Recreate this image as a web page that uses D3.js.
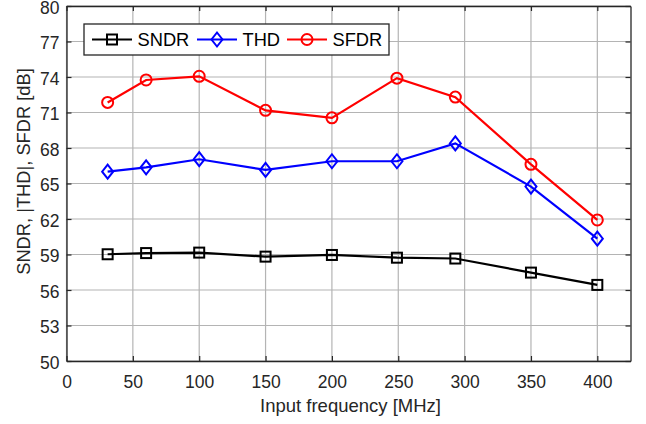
<!DOCTYPE html>
<html><head><meta charset="utf-8">
<script src="https://cdn.jsdelivr.net/npm/d3@7"></script>
<style>body{margin:0;background:#fff}svg{display:block}text{font-family:"Liberation Sans",Arial,sans-serif}</style>
</head><body><svg id="c" width="646" height="424"></svg>
<script>
const freq = [31, 60, 100, 150, 200, 249, 293, 350, 400];
const sndr = [59.02, 59.12, 59.16, 58.82, 58.96, 58.73, 58.66, 57.47, 56.43];
const thd  = [66.0, 66.37, 67.05, 66.15, 66.88, 66.88, 68.39, 64.74, 60.34];
const sfdr = [71.85, 73.75, 74.06, 71.18, 70.55, 73.9, 72.3, 66.62, 61.92];
const xTicks = [0, 50, 100, 150, 200, 250, 300, 350, 400];
const yTicks = [50, 53, 56, 59, 62, 65, 68, 71, 74, 77, 80];
const seriesNames = ["SNDR", "THD", "SFDR"];
const seriesColors = ["#000000", "#0000ff", "#ff0000"];
const seriesMarkers = ["square", "diamond", "circle"];

const svg = d3.select("#c");
const L = 66.5, R = 630.5, T = 6, B = 361;
const x = d3.scaleLinear().domain([0, 425]).range([L, R]);
const y = d3.scaleLinear().domain([50, 80]).range([B, T]);

// grid
const g = svg.append("g");
g.selectAll(".gx").data(xTicks).join("line")
  .attr("x1", d => x(d)).attr("x2", d => x(d)).attr("y1", T).attr("y2", B)
  .attr("stroke", "#b4b4b4").attr("stroke-width", 1.2);
g.selectAll(".gy").data(yTicks).join("line")
  .attr("x1", L).attr("x2", R).attr("y1", d => y(d)).attr("y2", d => y(d))
  .attr("stroke", "#b4b4b4").attr("stroke-width", 1.2);

// axes
const xa = svg.append("g").attr("transform", `translate(0,${B})`)
  .call(d3.axisBottom(x).tickValues(xTicks).tickSizeInner(-5).tickSizeOuter(0).tickPadding(15));
const ya = svg.append("g").attr("transform", `translate(${L},0)`)
  .call(d3.axisLeft(y).tickValues(yTicks).tickSizeInner(-5).tickSizeOuter(0).tickPadding(7));
const xt = svg.append("g").attr("transform", `translate(0,${T})`)
  .call(d3.axisTop(x).tickValues(xTicks).tickSizeInner(-5).tickSizeOuter(0).tickFormat(""));
const yr = svg.append("g").attr("transform", `translate(${R},0)`)
  .call(d3.axisRight(y).tickValues(yTicks).tickSizeInner(-5).tickSizeOuter(0).tickFormat(""));
[xa, ya, xt, yr].forEach(a => {
  a.select(".domain").attr("stroke", "#262626").attr("stroke-width", 1.3);
  a.selectAll(".tick line").attr("stroke", "#262626").attr("stroke-width", 1.2);
  a.selectAll(".tick text").attr("fill", "#262626").style("font-size", "17.5px")
   .style("font-family", '"Liberation Sans",Arial,sans-serif');
});
ya.selectAll(".tick text").attr("dy", "0.42em");

// labels
svg.append("text").attr("x", 350.5).attr("y", 412).attr("text-anchor", "middle")
  .attr("fill", "#262626").style("font-size", "18.5px").text("Input frequency [MHz]");
svg.append("text").attr("transform", `translate(30,171.5) rotate(-90)`)
  .attr("text-anchor", "middle").attr("fill", "#262626").style("font-size", "18.3px")
  .text("SNDR, |THD|, SFDR [dB]");

function marker(sel, type, color) {
  if (type === "square") {
    sel.append("rect").attr("x", -5).attr("y", -5).attr("width", 10).attr("height", 10)
      .attr("fill", "none").attr("stroke", color).attr("stroke-width", 2);
  } else if (type === "diamond") {
    sel.append("path").attr("d", "M0,-7L5.5,0L0,7L-5.5,0Z")
      .attr("fill", "none").attr("stroke", color).attr("stroke-width", 2);
  } else {
    sel.append("circle").attr("r", 5.5)
      .attr("fill", "none").attr("stroke", color).attr("stroke-width", 2);
  }
}

const allData = [sndr, thd, sfdr];
const line = d3.line().x(d => x(d[0])).y(d => y(d[1]));
allData.forEach((vals, i) => {
  const pts = freq.map((f, j) => [f, vals[j]]);
  svg.append("path").datum(pts).attr("d", line).attr("fill", "none")
    .attr("stroke", seriesColors[i]).attr("stroke-width", 2.2);
  svg.selectAll(null).data(pts).join("g")
    .attr("transform", d => `translate(${x(d[0])},${y(d[1])})`)
    .each(function () { marker(d3.select(this), seriesMarkers[i], seriesColors[i]); });
});

// legend
const lg = svg.append("g");
lg.append("rect").attr("x", 84).attr("y", 24).attr("width", 305).attr("height", 31)
  .attr("fill", "#fff").attr("stroke", "#262626").attr("stroke-width", 1.3);
const lx = [92, 197, 287];
seriesNames.forEach((n, i) => {
  const cy = 39.5;
  lg.append("line").attr("x1", lx[i]).attr("x2", lx[i] + 40).attr("y1", cy).attr("y2", cy)
    .attr("stroke", seriesColors[i]).attr("stroke-width", 2.2);
  const m = lg.append("g").attr("transform", `translate(${lx[i] + 20},${cy})`);
  marker(m, seriesMarkers[i], seriesColors[i]);
  lg.append("text").attr("x", lx[i] + 45.5).attr("y", cy + 6.5).attr("fill", "#000")
    .style("font-size", "18.3px").text(n);
});
</script></body></html>
